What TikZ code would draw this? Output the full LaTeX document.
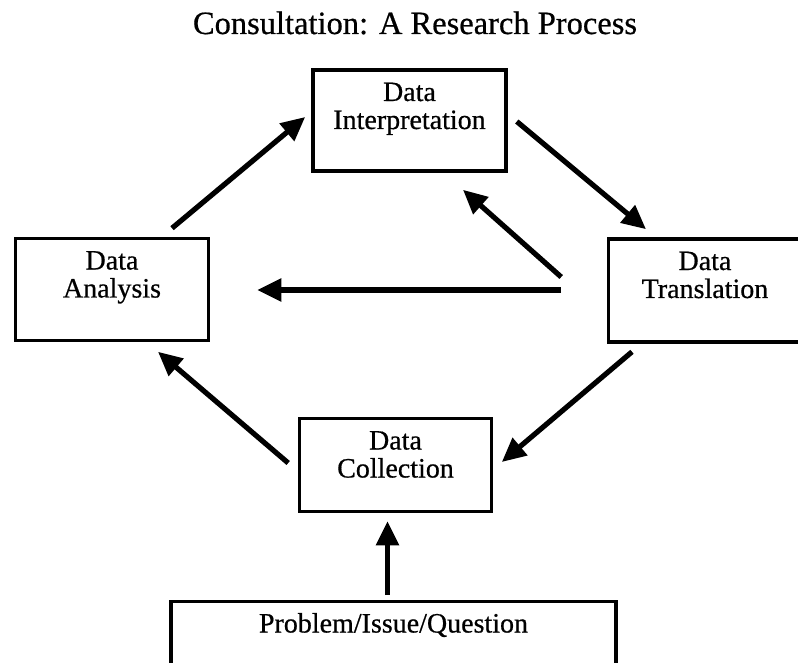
\documentclass[tikz,border=0pt]{standalone}
\usepackage{fontspec}
\setmainfont{Liberation Serif}[FakeBold=0.6]
\usetikzlibrary{arrows.meta}
\newcommand\bxtext[3]{\parbox[c][#2][t]{#1}{\centering\rule{0pt}{31pt}#3}}
\begin{document}
\begin{tikzpicture}[x=1pt,y=-1pt,
  box/.style={draw, line width=3.6pt, inner sep=0pt, font=\fontsize{28}{28}\selectfont},
  arr/.style={line width=5.2pt, -{Triangle[length=24pt,width=22pt]}}]
\clip (0,0) rectangle (798,663);
\fill[white] (0,0) rectangle (798,663);
\node[font=\fontsize{32.5}{36}\selectfont, anchor=base] (title) at (415,34) {Consultation: A Research Process};
\node[box] (interp) at (409.5,120.5) {\bxtext{193pt}{101pt}{Data\\Interpretation}};
\node[box] (analysis) at (112,289.5) {\bxtext{193pt}{102pt}{Data\\Analysis}};
\node[box] (translation) at (705,290.5) {\bxtext{193pt}{103pt}{Data\\Translation}};
\node[box] (collection) at (395.5,465) {\bxtext{192pt}{93pt}{Data\\Collection}};
\node[box] (problem) at (393.5,651.5) {\bxtext{445pt}{100pt}{Problem/Issue/Question}};
\draw[arr] ([xshift=60pt,yshift=8.5pt]analysis.north) -- ([xshift=-6pt,yshift=3.5pt]interp.west);
\draw[arr] ([xshift=9pt,yshift=-1pt]interp.east) -- ([xshift=-59pt,yshift=8pt]translation.north);
\draw[arr] ([xshift=-45.5pt,yshift=13.5pt]translation.west) -- ([xshift=53.5pt,yshift=-17pt]interp.south);
\draw[arr] ([xshift=-45.5pt,yshift=0.5pt]translation.west) -- ([xshift=47pt,yshift=-0.5pt]analysis.east);
\draw[arr] ([xshift=-73pt,yshift=-8pt]translation.south) -- ([xshift=8.5pt,yshift=3pt]collection.east);
\draw[arr] ([xshift=-9.5pt,yshift=2pt]collection.west) -- ([xshift=46pt,yshift=-9.5pt]analysis.south);
\draw[arr] ([xshift=-6pt,yshift=4.5pt]problem.north) -- ([xshift=-8pt,yshift=-8pt]collection.south);
\end{tikzpicture}
\end{document}
